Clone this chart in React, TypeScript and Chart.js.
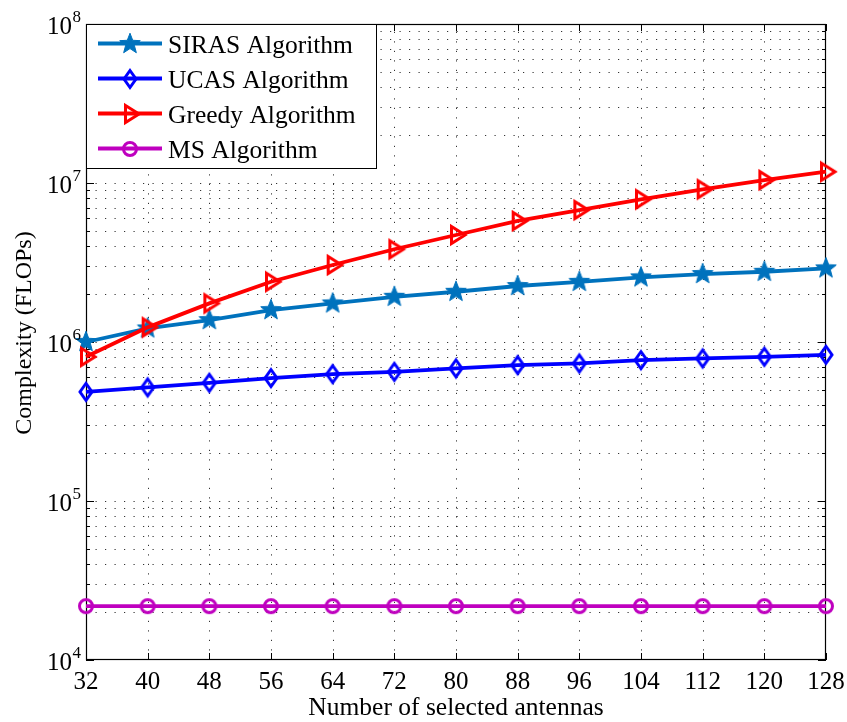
import React, { useEffect, useRef } from "react";
import { Chart, registerables } from "chart.js";

Chart.register(...registerables);

// Number of selected antennas (x axis)
const antennas = [32, 40, 48, 56, 64, 72, 80, 88, 96, 104, 112, 120, 128];

// Complexity in FLOPs for each algorithm
const sirasFlops = [1.0e6, 1.218e6, 1.373e6, 1.588e6, 1.749e6, 1.924e6, 2.07e6, 2.25e6, 2.39e6, 2.55e6, 2.675e6, 2.765e6, 2.905e6];
const ucasFlops = [4.86e5, 5.18e5, 5.54e5, 5.93e5, 6.28e5, 6.49e5, 6.82e5, 7.15e5, 7.33e5, 7.69e5, 7.88e5, 8.07e5, 8.31e5];
const greedyFlops = [8.07e5, 1.236e6, 1.749e6, 2.393e6, 3.05e6, 3.83e6, 4.71e6, 5.77e6, 6.76e6, 7.9e6, 9.13e6, 1.044e7, 1.178e7];
const msFlops = [2.18e4, 2.18e4, 2.18e4, 2.18e4, 2.18e4, 2.18e4, 2.18e4, 2.18e4, 2.18e4, 2.18e4, 2.18e4, 2.18e4, 2.18e4];

const seriesNames = ["SIRAS Algorithm", "UCAS Algorithm", "Greedy Algorithm", "MS Algorithm"];
const seriesColors = ["#0072BD", "#0000FF", "#FF0000", "#BF00BF"];

// Axis ticks
const xTicks = [32, 40, 48, 56, 64, 72, 80, 88, 96, 104, 112, 120, 128];
const yExponents = [4, 5, 6, 7, 8];

const FONT = "'Liberation Serif', 'Times New Roman', Times, serif";
const LINE_W = 3.8;

type MarkerKind = "star" | "diamond" | "triangle" | "circle";
const seriesMarkers: MarkerKind[] = ["star", "diamond", "triangle", "circle"];

function makeMarker(kind: MarkerKind, color: string): HTMLCanvasElement {
  const c = document.createElement("canvas");
  c.width = 32;
  c.height = 32;
  const g = c.getContext("2d")!;
  g.translate(16, 16);
  g.strokeStyle = color;
  g.fillStyle = color;
  g.lineJoin = "miter";
  g.beginPath();
  if (kind === "star") {
    for (let i = 0; i < 10; i++) {
      const r = i % 2 === 0 ? 10.8 : 4.6;
      const ang = -Math.PI / 2 + (i * Math.PI) / 5;
      const px = r * Math.cos(ang);
      const py = r * Math.sin(ang);
      if (i === 0) g.moveTo(px, py);
      else g.lineTo(px, py);
    }
    g.closePath();
    g.fill();
    g.lineWidth = 1;
    g.stroke();
  } else if (kind === "diamond") {
    g.moveTo(0, -8.5);
    g.lineTo(6, 0);
    g.lineTo(0, 8.5);
    g.lineTo(-6, 0);
    g.closePath();
    g.lineWidth = 3;
    g.stroke();
  } else if (kind === "triangle") {
    g.moveTo(-4.5, -8.5);
    g.lineTo(9, 0);
    g.lineTo(-4.5, 8.5);
    g.closePath();
    g.lineWidth = 3;
    g.stroke();
  } else {
    g.arc(0, 0, 6.5, 0, Math.PI * 2);
    g.lineWidth = 3;
    g.stroke();
  }
  return c;
}

const matlabAxes = {
  id: "matlabAxes",
  beforeDatasetsDraw(chart: any) {
    const { ctx, chartArea: a, scales } = chart;
    const xs = scales.x;
    const ys = scales.y;
    ctx.save();

    // dotted grid
    ctx.strokeStyle = "rgba(0,0,0,0.8)";
    ctx.lineWidth = 1;
    ctx.setLineDash([1.2, 8.3]);
    for (const v of xTicks) {
      if (v <= xs.min || v >= xs.max) continue;
      const px = Math.round(xs.getPixelForValue(v)) + 0.5;
      ctx.beginPath();
      ctx.moveTo(px, a.bottom);
      ctx.lineTo(px, a.top);
      ctx.stroke();
    }
    for (const e of yExponents) {
      for (let k = 1; k <= 9; k++) {
        const val = k * Math.pow(10, e);
        if (val <= ys.min || val >= ys.max) continue;
        const py = Math.round(ys.getPixelForValue(val)) + 0.5;
        ctx.beginPath();
        ctx.moveTo(a.left, py);
        ctx.lineTo(a.right, py);
        ctx.stroke();
      }
    }

    // inward tick marks
    ctx.setLineDash([]);
    ctx.strokeStyle = "#000";
    ctx.lineWidth = 1;
    for (const v of xTicks) {
      const px = Math.round(xs.getPixelForValue(v)) + 0.5;
      ctx.beginPath();
      ctx.moveTo(px, a.bottom);
      ctx.lineTo(px, a.bottom - 7);
      ctx.moveTo(px, a.top);
      ctx.lineTo(px, a.top + 7);
      ctx.stroke();
    }
    for (const e of yExponents) {
      for (let k = 1; k <= 9; k++) {
        const val = k * Math.pow(10, e);
        if (val < ys.min || val > ys.max) continue;
        const len = k === 1 ? 8 : 4;
        const py = Math.round(ys.getPixelForValue(val)) + 0.5;
        ctx.beginPath();
        ctx.moveTo(a.left, py);
        ctx.lineTo(a.left + len, py);
        ctx.moveTo(a.right, py);
        ctx.lineTo(a.right - len, py);
        ctx.stroke();
      }
    }

    // axes box
    ctx.lineWidth = 1.2;
    ctx.strokeRect(a.left + 0.5, a.top + 0.5, a.right - a.left - 1, a.bottom - a.top - 1);
    ctx.restore();
  },
  afterDraw(chart: any) {
    const { ctx, chartArea: a, scales } = chart;
    const xs = scales.x;
    const ys = scales.y;
    ctx.save();
    ctx.fillStyle = "#000";

    // x tick labels
    ctx.font = `25px ${FONT}`;
    ctx.textAlign = "center";
    ctx.textBaseline = "alphabetic";
    for (const v of xTicks) {
      ctx.fillText(String(v), xs.getPixelForValue(v), a.bottom + 29);
    }

    // y tick labels: 10 with superscript exponent
    for (const e of yExponents) {
      const py = ys.getPixelForValue(Math.pow(10, e));
      ctx.font = `25px ${FONT}`;
      ctx.textAlign = "right";
      ctx.fillText("10", a.left - 14, py + 9.5);
      ctx.font = `17px ${FONT}`;
      ctx.textAlign = "left";
      ctx.fillText(String(e), a.left - 13.5, py - 2);
    }

    // axis titles
    ctx.font = `25.5px ${FONT}`;
    ctx.textAlign = "center";
    ctx.fillText("Number of selected antennas", (a.left + a.right) / 2, a.bottom + 55);
    ctx.save();
    ctx.translate(31, (a.top + a.bottom) / 2 - 9);
    ctx.rotate(-Math.PI / 2);
    ctx.font = `24px ${FONT}`;
    ctx.fillText("Complexity (FLOPs)", 0, 0);
    ctx.restore();

    // legend box
    const lx = a.left;
    const ly = a.top;
    ctx.fillStyle = "#fff";
    ctx.fillRect(lx, ly, 290, 144);
    ctx.strokeStyle = "#000";
    ctx.lineWidth = 1;
    ctx.strokeRect(lx + 0.5, ly + 0.5, 290, 144);
    chart.data.datasets.forEach((ds: any, i: number) => {
      const cy = ly + 19.5 + 35 * i;
      ctx.strokeStyle = ds.borderColor;
      ctx.lineWidth = LINE_W;
      ctx.beginPath();
      ctx.moveTo(lx + 12, cy);
      ctx.lineTo(lx + 76, cy);
      ctx.stroke();
      const img = ds.pointStyle as HTMLCanvasElement;
      ctx.drawImage(img, Math.round(lx + 44 - img.width / 2), Math.round(cy - img.height / 2));
      ctx.fillStyle = "#000";
      ctx.font = `25.5px ${FONT}`;
      ctx.textAlign = "left";
      ctx.fillText(ds.label, lx + 82, cy + 9.5);
    });
    ctx.restore();
  },
};

export default function App() {
  const canvasRef = useRef<HTMLCanvasElement | null>(null);

  useEffect(() => {
    const canvas = canvasRef.current;
    if (!canvas) return;
    const allSeries = [sirasFlops, ucasFlops, greedyFlops, msFlops];
    const datasets = allSeries.map((vals, i) => ({
      label: seriesNames[i],
      data: antennas.map((x, j) => ({ x, y: vals[j] })),
      borderColor: seriesColors[i],
      backgroundColor: seriesColors[i],
      borderWidth: LINE_W,
      pointStyle: makeMarker(seriesMarkers[i], seriesColors[i]) as any,
      pointRadius: 8,
      tension: 0,
      clip: false as any,
      order: allSeries.length - i,
    }));
    const chart = new Chart(canvas, {
      type: "line",
      data: { datasets },
      options: {
        responsive: false,
        animation: false,
        devicePixelRatio: 1,
        layout: { padding: { left: 86, right: 21, top: 24, bottom: 62 } },
        plugins: { legend: { display: false }, tooltip: { enabled: false } },
        scales: {
          x: { type: "linear", min: 32, max: 128, display: false },
          y: { type: "logarithmic", min: 1e4, max: 1e8, display: false },
        },
      },
      plugins: [matlabAxes],
    });
    return () => chart.destroy();
  }, []);

  return (
    <div style={{ position: "absolute", left: 0, top: 0, width: 847, height: 722, background: "#fff" }}>
      <canvas ref={canvasRef} width={847} height={722} style={{ display: "block" }} />
    </div>
  );
}
